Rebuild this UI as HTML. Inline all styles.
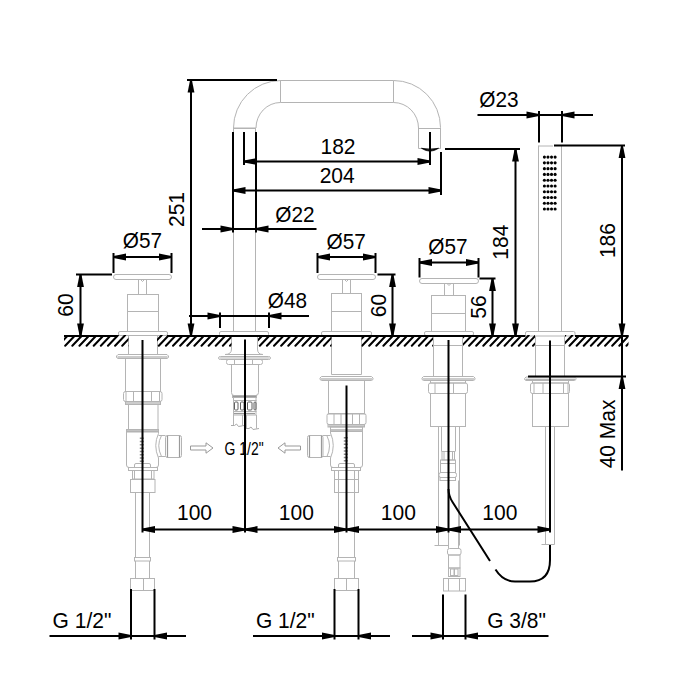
<!DOCTYPE html><html><head><meta charset="utf-8"><style>html,body{margin:0;padding:0;background:#fff;width:700px;height:700px;overflow:hidden}svg{display:block}text{font-family:"Liberation Sans",sans-serif;fill:#000}</style></head><body>
<svg width="700" height="700" viewBox="0 0 700 700">
<rect width="700" height="700" fill="#fff"/>
<g fill="none" stroke="#b4b4b4" stroke-width="1">
<path d="M233.5,128 A47.5,47.5 0 0 1 281,80.5 L393.5,80.5 A47,47 0 0 1 440.5,127.5 L440.5,148.5 L418.5,148.5 L418.5,128 A25,25.5 0 0 0 393.5,102.5 L280.5,102.5 A24.5,25.5 0 0 0 256,128 Z" fill="none" stroke="#b4b4b4" stroke-width="1"/>
<line x1="280.5" y1="80.5" x2="280.5" y2="102.5" stroke="#b4b4b4" stroke-width="1"/>
<line x1="393.5" y1="80.5" x2="393.5" y2="102.5" stroke="#b4b4b4" stroke-width="1"/>
<line x1="233.5" y1="128.5" x2="255.5" y2="128.5" stroke="#b4b4b4" stroke-width="1"/>
<line x1="418.5" y1="128.5" x2="440.5" y2="128.5" stroke="#b4b4b4" stroke-width="1"/>
<line x1="233.5" y1="128" x2="233.5" y2="331" stroke="#b4b4b4" stroke-width="1"/>
<line x1="255.5" y1="128" x2="255.5" y2="331" stroke="#b4b4b4" stroke-width="1"/>
<rect x="219.5" y="331.5" width="49" height="4.5" rx="1.5" fill="none" stroke="#b4b4b4" stroke-width="1"/>
<rect x="113.5" y="274.5" width="58.0" height="5" rx="2.5" fill="none" stroke="#b4b4b4" stroke-width="1"/>
<line x1="138.5" y1="279.5" x2="138.5" y2="294.5" stroke="#b4b4b4" stroke-width="1"/>
<line x1="146.5" y1="279.5" x2="146.5" y2="294.5" stroke="#b4b4b4" stroke-width="1"/>
<path d="M140.5,279.5 L142.5,281.5 L144.5,279.5" fill="none" stroke="#b4b4b4" stroke-width="1"/>
<rect x="127.5" y="294.5" width="31.0" height="37.0" rx="0" fill="none" stroke="#b4b4b4" stroke-width="1"/>
<line x1="127.5" y1="311.5" x2="158.5" y2="311.5" stroke="#b4b4b4" stroke-width="1"/>
<rect x="118.5" y="331.5" width="49.0" height="4" rx="1.5" fill="none" stroke="#b4b4b4" stroke-width="1"/>
<rect x="317.5" y="274.5" width="58.0" height="5" rx="2.5" fill="none" stroke="#b4b4b4" stroke-width="1"/>
<line x1="342.5" y1="279.5" x2="342.5" y2="293.5" stroke="#b4b4b4" stroke-width="1"/>
<line x1="350.5" y1="279.5" x2="350.5" y2="293.5" stroke="#b4b4b4" stroke-width="1"/>
<path d="M344.5,279.5 L346.5,281.5 L348.5,279.5" fill="none" stroke="#b4b4b4" stroke-width="1"/>
<rect x="331.5" y="293.5" width="30.0" height="38.0" rx="0" fill="none" stroke="#b4b4b4" stroke-width="1"/>
<line x1="331.5" y1="311.5" x2="361.5" y2="311.5" stroke="#b4b4b4" stroke-width="1"/>
<rect x="321.5" y="331.5" width="50.0" height="4" rx="1.5" fill="none" stroke="#b4b4b4" stroke-width="1"/>
<rect x="419.5" y="278.5" width="59.0" height="5" rx="2.5" fill="none" stroke="#b4b4b4" stroke-width="1"/>
<line x1="444.5" y1="283.5" x2="444.5" y2="295.5" stroke="#b4b4b4" stroke-width="1"/>
<line x1="453.5" y1="283.5" x2="453.5" y2="295.5" stroke="#b4b4b4" stroke-width="1"/>
<path d="M447.0,283.5 L449.0,285.5 L451.0,283.5" fill="none" stroke="#b4b4b4" stroke-width="1"/>
<rect x="431.5" y="295.5" width="34.0" height="36.0" rx="0" fill="none" stroke="#b4b4b4" stroke-width="1"/>
<line x1="431.5" y1="313.5" x2="465.5" y2="313.5" stroke="#b4b4b4" stroke-width="1"/>
<rect x="424.5" y="331.5" width="49.0" height="4" rx="1.5" fill="none" stroke="#b4b4b4" stroke-width="1"/>
<line x1="538.5" y1="145.5" x2="538.5" y2="331" stroke="#b4b4b4" stroke-width="1"/>
<line x1="561.5" y1="145.5" x2="561.5" y2="331" stroke="#b4b4b4" stroke-width="1"/>
<line x1="538.5" y1="146" x2="553" y2="146" stroke="#b4b4b4" stroke-width="1"/>
<rect x="525.5" y="331.5" width="49.5" height="4.5" rx="1.5" fill="none" stroke="#b4b4b4" stroke-width="1"/>
</g>
<circle cx="544.40" cy="157.10" r="1.55" fill="#000"/>
<circle cx="547.97" cy="157.10" r="1.55" fill="#000"/>
<circle cx="551.54" cy="157.10" r="1.55" fill="#000"/>
<circle cx="555.11" cy="157.10" r="1.55" fill="#000"/>
<circle cx="544.40" cy="162.87" r="1.55" fill="#000"/>
<circle cx="547.97" cy="162.87" r="1.55" fill="#000"/>
<circle cx="551.54" cy="162.87" r="1.55" fill="#000"/>
<circle cx="555.11" cy="162.87" r="1.55" fill="#000"/>
<circle cx="544.40" cy="168.64" r="1.55" fill="#000"/>
<circle cx="547.97" cy="168.64" r="1.55" fill="#000"/>
<circle cx="551.54" cy="168.64" r="1.55" fill="#000"/>
<circle cx="555.11" cy="168.64" r="1.55" fill="#000"/>
<circle cx="544.40" cy="174.41" r="1.55" fill="#000"/>
<circle cx="547.97" cy="174.41" r="1.55" fill="#000"/>
<circle cx="551.54" cy="174.41" r="1.55" fill="#000"/>
<circle cx="555.11" cy="174.41" r="1.55" fill="#000"/>
<circle cx="544.40" cy="180.18" r="1.55" fill="#000"/>
<circle cx="547.97" cy="180.18" r="1.55" fill="#000"/>
<circle cx="551.54" cy="180.18" r="1.55" fill="#000"/>
<circle cx="555.11" cy="180.18" r="1.55" fill="#000"/>
<circle cx="544.40" cy="185.95" r="1.55" fill="#000"/>
<circle cx="547.97" cy="185.95" r="1.55" fill="#000"/>
<circle cx="551.54" cy="185.95" r="1.55" fill="#000"/>
<circle cx="555.11" cy="185.95" r="1.55" fill="#000"/>
<circle cx="544.40" cy="191.72" r="1.55" fill="#000"/>
<circle cx="547.97" cy="191.72" r="1.55" fill="#000"/>
<circle cx="551.54" cy="191.72" r="1.55" fill="#000"/>
<circle cx="555.11" cy="191.72" r="1.55" fill="#000"/>
<circle cx="544.40" cy="197.49" r="1.55" fill="#000"/>
<circle cx="547.97" cy="197.49" r="1.55" fill="#000"/>
<circle cx="551.54" cy="197.49" r="1.55" fill="#000"/>
<circle cx="555.11" cy="197.49" r="1.55" fill="#000"/>
<circle cx="544.40" cy="203.26" r="1.55" fill="#000"/>
<circle cx="547.97" cy="203.26" r="1.55" fill="#000"/>
<circle cx="551.54" cy="203.26" r="1.55" fill="#000"/>
<circle cx="555.11" cy="203.26" r="1.55" fill="#000"/>
<circle cx="544.40" cy="209.03" r="1.55" fill="#000"/>
<circle cx="547.97" cy="209.03" r="1.55" fill="#000"/>
<circle cx="551.54" cy="209.03" r="1.55" fill="#000"/>
<circle cx="555.11" cy="209.03" r="1.55" fill="#000"/>
<g fill="none" stroke="#b4b4b4" stroke-width="1">
<line x1="128.5" y1="336" x2="128.5" y2="354.5" stroke="#b4b4b4" stroke-width="1"/>
<line x1="157.5" y1="336" x2="157.5" y2="354.5" stroke="#b4b4b4" stroke-width="1"/>
<path d="M118.0,354.5 L167.0,354.5 L168.5,356.0 L168.5,357.5 L167.0,358.5 L118.0,358.5 L116.5,357.5 L116.5,356.0 Z" fill="none" stroke="#b4b4b4" stroke-width="1"/>
<line x1="117.5" y1="357.0" x2="167.5" y2="357.0" stroke="#9a9a9a" stroke-width="1.2"/>
<rect x="125.5" y="358.5" width="35" height="33" rx="0" fill="none" stroke="#b4b4b4" stroke-width="1"/>
<rect x="123.5" y="391.5" width="38.5" height="10.0" rx="2" fill="none" stroke="#b4b4b4" stroke-width="1"/>
<line x1="126" y1="391.5" x2="126" y2="401.5" stroke="#b4b4b4" stroke-width="1"/>
<line x1="133.5" y1="391.5" x2="133.5" y2="401.5" stroke="#b4b4b4" stroke-width="1"/>
<line x1="151.5" y1="391.5" x2="151.5" y2="401.5" stroke="#b4b4b4" stroke-width="1"/>
<line x1="159.5" y1="391.5" x2="159.5" y2="401.5" stroke="#b4b4b4" stroke-width="1"/>
<rect x="125.5" y="401.5" width="35" height="3" rx="0" fill="none" stroke="#b4b4b4" stroke-width="1"/>
<line x1="126" y1="403" x2="160" y2="403" stroke="#9a9a9a" stroke-width="1.2"/>
<rect x="128.5" y="404.5" width="29.5" height="25" rx="0" fill="none" stroke="#b4b4b4" stroke-width="1"/>
<rect x="126.5" y="429.5" width="32" height="2.5" rx="0" fill="none" stroke="#b4b4b4" stroke-width="1"/>
<line x1="127" y1="431" x2="158" y2="431" stroke="#9a9a9a" stroke-width="1.2"/>
<path d="M126.5,432 L126.5,465 Q126.5,467.5 129,467.5 L156,467.5 Q158.5,467.5 158.5,465 L158.5,458 M158.5,432 L158.5,433.5" fill="none" stroke="#b4b4b4" stroke-width="1"/>
<path d="M158.5,433.5 Q153,445.5 158.5,458 M161.5,435.5 Q156,445.5 161.5,456.5" fill="none" stroke="#b4b4b4" stroke-width="1"/>
<line x1="158.5" y1="435.5" x2="165.5" y2="435.5" stroke="#b4b4b4" stroke-width="1"/>
<line x1="158.5" y1="456.5" x2="165.5" y2="456.5" stroke="#b4b4b4" stroke-width="1"/>
<rect x="165.5" y="435.5" width="16" height="22" rx="2" fill="none" stroke="#b4b4b4" stroke-width="1"/>
<line x1="167.5" y1="435.5" x2="167.5" y2="457.5" stroke="#9a9a9a" stroke-width="1.2"/>
<line x1="179.5" y1="435.5" x2="179.5" y2="457.5" stroke="#9a9a9a" stroke-width="1.2"/>
<line x1="141.8" y1="437.5" x2="141.8" y2="462.5" stroke="#8a8a8a" stroke-width="4" stroke-dasharray="1.5,1.8"/>
<path d="M134.5,467.5 L134.5,465 Q134.5,463.5 136,463.5 L149,463.5 Q150.5,463.5 150.5,465 L150.5,467.5" fill="none" stroke="#b4b4b4" stroke-width="1"/>
<rect x="128.5" y="467.5" width="29" height="3" rx="0" fill="none" stroke="#b4b4b4" stroke-width="1"/>
<rect x="132.5" y="470.5" width="21.5" height="8.5" rx="0" fill="none" stroke="#b4b4b4" stroke-width="1"/>
<line x1="134.5" y1="470.5" x2="134.5" y2="479" stroke="#b4b4b4" stroke-width="1"/>
<line x1="151.5" y1="470.5" x2="151.5" y2="479" stroke="#b4b4b4" stroke-width="1"/>
<rect x="130.5" y="479.5" width="24.5" height="13" rx="0" fill="none" stroke="#b4b4b4" stroke-width="1"/>
<line x1="135.5" y1="492.5" x2="135.5" y2="557.5" stroke="#b4b4b4" stroke-width="1"/>
<line x1="149.5" y1="492.5" x2="149.5" y2="557.5" stroke="#b4b4b4" stroke-width="1"/>
<rect x="134.5" y="557.5" width="16" height="3.5" rx="0" fill="none" stroke="#b4b4b4" stroke-width="1"/>
<line x1="135.5" y1="561" x2="135.5" y2="578" stroke="#b4b4b4" stroke-width="1"/>
<line x1="149.5" y1="561" x2="149.5" y2="578" stroke="#b4b4b4" stroke-width="1"/>
<rect x="130.5" y="578.5" width="24" height="12" rx="0" fill="none" stroke="#b4b4b4" stroke-width="1"/>
<line x1="143.5" y1="578.5" x2="143.5" y2="590.5" stroke="#b4b4b4" stroke-width="1"/>
<path d="M231.5,336 L231.5,349 Q231.5,354.5 225,354.5 L263,354.5 Q257.5,354.5 257.5,349 L257.5,336" fill="none" stroke="#b4b4b4" stroke-width="1"/>
<path d="M220.5,356.5 L268.5,356.5 Q270.5,356.5 270.5,358 Q270.5,359.5 268.5,359.5 L220.5,359.5 Q218.5,359.5 218.5,358 Q218.5,356.5 220.5,356.5 Z" fill="none" stroke="#b4b4b4" stroke-width="1"/>
<line x1="220" y1="358" x2="269" y2="358" stroke="#b4b4b4" stroke-width="1"/>
<rect x="226.5" y="359.5" width="36.0" height="5.0" rx="2" fill="none" stroke="#b4b4b4" stroke-width="1"/>
<line x1="234.5" y1="359.5" x2="234.5" y2="364.5" stroke="#b4b4b4" stroke-width="1"/>
<line x1="252.5" y1="359.5" x2="252.5" y2="364.5" stroke="#b4b4b4" stroke-width="1"/>
<path d="M231.5,364.5 L231.5,392.5 Q231.5,395.5 234,395.5 L255.5,395.5 Q258.5,395.5 258.5,392.5 L258.5,364.5" fill="none" stroke="#b4b4b4" stroke-width="1"/>
<rect x="232.5" y="395.5" width="24" height="2" rx="0" fill="none" stroke="#b4b4b4" stroke-width="1"/>
<line x1="233" y1="396.5" x2="256" y2="396.5" stroke="#9a9a9a" stroke-width="1"/>
<rect x="233.5" y="397.5" width="22.5" height="3" rx="0" fill="none" stroke="#b4b4b4" stroke-width="1"/>
<rect x="233.5" y="400.5" width="22.5" height="11" rx="0" fill="none" stroke="#b4b4b4" stroke-width="1"/>
<rect x="234.5" y="402" width="3.5" height="8" rx="1" fill="none" stroke="#606060" stroke-width="1"/>
<rect x="240.5" y="402" width="3.5" height="8" rx="1" fill="none" stroke="#606060" stroke-width="1"/>
<rect x="247.5" y="402" width="4.5" height="8" rx="1" fill="none" stroke="#606060" stroke-width="1"/>
<rect x="254" y="402" width="2" height="8" rx="1" fill="none" stroke="#606060" stroke-width="1"/>
<rect x="233.5" y="411.5" width="22.5" height="3.5" rx="0" fill="none" stroke="#b4b4b4" stroke-width="1"/>
<line x1="234" y1="413.5" x2="255" y2="413.5" stroke="#9a9a9a" stroke-width="1.2"/>
<line x1="233.5" y1="415" x2="233.5" y2="425.5" stroke="#b4b4b4" stroke-width="1"/>
<line x1="242.5" y1="415" x2="242.5" y2="425.5" stroke="#b4b4b4" stroke-width="1"/>
<line x1="246.5" y1="415" x2="246.5" y2="428.5" stroke="#b4b4b4" stroke-width="1"/>
<line x1="256.5" y1="415" x2="256.5" y2="428.5" stroke="#b4b4b4" stroke-width="1"/>
<path d="M231,425.5 L234.5,425.5 L236.5,424 L238.5,426.5 L244,425.5" fill="none" stroke="#aaa" stroke-width="1"/>
<path d="M245,428.5 L249,428.5 L251,427 L253,429.5 L259,428.5" fill="none" stroke="#aaa" stroke-width="1"/>
<line x1="331.5" y1="336" x2="331.5" y2="374.5" stroke="#b4b4b4" stroke-width="1"/>
<line x1="361.5" y1="336" x2="361.5" y2="374.5" stroke="#b4b4b4" stroke-width="1"/>
<line x1="331.5" y1="374.5" x2="361.5" y2="374.5" stroke="#b4b4b4" stroke-width="1"/>
<path d="M321.5,376.5 L371.5,376.5 L373,378.0 L373,379.5 L371.5,380.5 L321.5,380.5 L320,379.5 L320,378.0 Z" fill="none" stroke="#b4b4b4" stroke-width="1"/>
<line x1="321" y1="379.0" x2="372" y2="379.0" stroke="#9a9a9a" stroke-width="1.2"/>
<rect x="328.5" y="380.5" width="36" height="33.5" rx="0" fill="none" stroke="#b4b4b4" stroke-width="1"/>
<rect x="327" y="413.5" width="39" height="11.0" rx="2" fill="none" stroke="#b4b4b4" stroke-width="1"/>
<line x1="334" y1="413.5" x2="334" y2="424.5" stroke="#b4b4b4" stroke-width="1"/>
<line x1="341" y1="413.5" x2="341" y2="424.5" stroke="#b4b4b4" stroke-width="1"/>
<line x1="352.5" y1="413.5" x2="352.5" y2="424.5" stroke="#b4b4b4" stroke-width="1"/>
<line x1="359.5" y1="413.5" x2="359.5" y2="424.5" stroke="#b4b4b4" stroke-width="1"/>
<rect x="328" y="424.5" width="36.5" height="2.5" rx="0" fill="none" stroke="#b4b4b4" stroke-width="1"/>
<line x1="328.5" y1="426" x2="364" y2="426" stroke="#9a9a9a" stroke-width="1.2"/>
<rect x="330.5" y="427" width="32" height="4.5" rx="0" fill="none" stroke="#b4b4b4" stroke-width="1"/>
<line x1="331" y1="430" x2="362" y2="430" stroke="#9a9a9a" stroke-width="1.2"/>
<path d="M330.5,431.5 L330.5,433 M330.5,458 L330.5,465 Q330.5,467.5 333,467.5 L360,467.5 Q362.5,467.5 362.5,465 L362.5,431.5" fill="none" stroke="#b4b4b4" stroke-width="1"/>
<path d="M330.5,433 Q336,445.5 330.5,458 M327,436 Q332,445.5 327,456.5" fill="none" stroke="#b4b4b4" stroke-width="1"/>
<line x1="322.5" y1="435.5" x2="330.5" y2="435.5" stroke="#b4b4b4" stroke-width="1"/>
<line x1="322.5" y1="456.5" x2="330.5" y2="456.5" stroke="#b4b4b4" stroke-width="1"/>
<rect x="307.5" y="435.5" width="15.5" height="22" rx="2" fill="none" stroke="#b4b4b4" stroke-width="1"/>
<line x1="309.5" y1="435.5" x2="309.5" y2="457.5" stroke="#9a9a9a" stroke-width="1.2"/>
<line x1="321.5" y1="435.5" x2="321.5" y2="457.5" stroke="#9a9a9a" stroke-width="1.2"/>
<line x1="345.8" y1="437" x2="345.8" y2="463" stroke="#8a8a8a" stroke-width="4" stroke-dasharray="1.5,1.8"/>
<path d="M338.5,467.5 L338.5,465 Q338.5,463.5 340,463.5 L353,463.5 Q354.5,463.5 354.5,465 L354.5,467.5" fill="none" stroke="#b4b4b4" stroke-width="1"/>
<rect x="331.5" y="467.5" width="29" height="3" rx="0" fill="none" stroke="#b4b4b4" stroke-width="1"/>
<rect x="334.5" y="470.5" width="24" height="22" rx="0" fill="none" stroke="#b4b4b4" stroke-width="1"/>
<line x1="334.5" y1="479.5" x2="358.5" y2="479.5" stroke="#b4b4b4" stroke-width="1"/>
<line x1="338.5" y1="470.5" x2="338.5" y2="492.5" stroke="#b4b4b4" stroke-width="1"/>
<line x1="354.5" y1="470.5" x2="354.5" y2="492.5" stroke="#b4b4b4" stroke-width="1"/>
<line x1="338.5" y1="492.5" x2="338.5" y2="557.5" stroke="#b4b4b4" stroke-width="1"/>
<line x1="354.5" y1="492.5" x2="354.5" y2="557.5" stroke="#b4b4b4" stroke-width="1"/>
<rect x="337.5" y="557.5" width="18" height="3.5" rx="0" fill="none" stroke="#b4b4b4" stroke-width="1"/>
<line x1="338.5" y1="561" x2="338.5" y2="578" stroke="#b4b4b4" stroke-width="1"/>
<line x1="354.5" y1="561" x2="354.5" y2="578" stroke="#b4b4b4" stroke-width="1"/>
<rect x="334.5" y="578.5" width="24" height="12" rx="0" fill="none" stroke="#b4b4b4" stroke-width="1"/>
<line x1="346.5" y1="578.5" x2="346.5" y2="590.5" stroke="#b4b4b4" stroke-width="1"/>
<line x1="433.5" y1="336" x2="433.5" y2="376.5" stroke="#b4b4b4" stroke-width="1"/>
<line x1="462.5" y1="336" x2="462.5" y2="376.5" stroke="#b4b4b4" stroke-width="1"/>
<line x1="433.5" y1="345.5" x2="462.5" y2="345.5" stroke="#b4b4b4" stroke-width="1"/>
<path d="M423.5,376.5 L473.5,376.5 L475,378.0 L475,379.5 L473.5,380.5 L423.5,380.5 L422,379.5 L422,378.0 Z" fill="none" stroke="#b4b4b4" stroke-width="1"/>
<line x1="423" y1="379.0" x2="474" y2="379.0" stroke="#9a9a9a" stroke-width="1.2"/>
<rect x="430.5" y="380.5" width="35" height="2.5" rx="0" fill="none" stroke="#b4b4b4" stroke-width="1"/>
<rect x="428.5" y="383" width="39.0" height="10.5" rx="2" fill="none" stroke="#b4b4b4" stroke-width="1"/>
<line x1="435" y1="383" x2="435" y2="393.5" stroke="#b4b4b4" stroke-width="1"/>
<line x1="453.5" y1="383" x2="453.5" y2="393.5" stroke="#b4b4b4" stroke-width="1"/>
<rect x="430.5" y="393.5" width="35" height="33" rx="0" fill="none" stroke="#b4b4b4" stroke-width="1"/>
<line x1="438.5" y1="427" x2="438.5" y2="545.5" stroke="#b4b4b4" stroke-width="1"/>
<line x1="459.5" y1="427" x2="459.5" y2="545.5" stroke="#b4b4b4" stroke-width="1"/>
<line x1="441.5" y1="427" x2="441.5" y2="451.5" stroke="#b4b4b4" stroke-width="1"/>
<line x1="455.5" y1="427" x2="455.5" y2="451.5" stroke="#b4b4b4" stroke-width="1"/>
<rect x="442" y="451.5" width="12.5" height="8.5" rx="0" fill="none" stroke="#b4b4b4" stroke-width="1"/>
<line x1="444" y1="451.5" x2="444" y2="460" stroke="#b4b4b4" stroke-width="1"/>
<line x1="452.5" y1="451.5" x2="452.5" y2="460" stroke="#b4b4b4" stroke-width="1"/>
<rect x="440.5" y="460" width="15" height="3.5" rx="0" fill="none" stroke="#b4b4b4" stroke-width="1"/>
<rect x="440.5" y="463.5" width="15" height="9" rx="0" fill="none" stroke="#b4b4b4" stroke-width="1"/>
<rect x="439" y="472.5" width="17.5" height="5" rx="2" fill="none" stroke="#b4b4b4" stroke-width="1"/>
<rect x="440" y="477.5" width="15.5" height="3" rx="0" fill="none" stroke="#b4b4b4" stroke-width="1"/>
<line x1="434.5" y1="545.5" x2="448" y2="545.5" stroke="#b4b4b4" stroke-width="1"/>
<line x1="448.5" y1="480.5" x2="448.5" y2="548.5" stroke="#b4b4b4" stroke-width="1"/>
<line x1="458.5" y1="480.5" x2="458.5" y2="548.5" stroke="#b4b4b4" stroke-width="1"/>
<rect x="447.5" y="548.5" width="13.5" height="6.5" rx="2" fill="none" stroke="#b4b4b4" stroke-width="1"/>
<rect x="448.5" y="555" width="11.5" height="13" rx="0" fill="none" stroke="#b4b4b4" stroke-width="1"/>
<rect x="448.5" y="568" width="11.5" height="8.5" rx="0" fill="none" stroke="#b4b4b4" stroke-width="1"/>
<rect x="450.5" y="569" width="3.5" height="6.5" rx="0" fill="none" stroke="#b4b4b4" stroke-width="1"/>
<rect x="454.5" y="569" width="3.5" height="6.5" rx="0" fill="none" stroke="#b4b4b4" stroke-width="1"/>
<rect x="443.5" y="578.5" width="22" height="12.5" rx="0" fill="none" stroke="#b4b4b4" stroke-width="1"/>
<line x1="448.5" y1="578.5" x2="448.5" y2="591" stroke="#b4b4b4" stroke-width="1"/>
<line x1="459.5" y1="578.5" x2="459.5" y2="591" stroke="#b4b4b4" stroke-width="1"/>
<line x1="535.5" y1="336" x2="535.5" y2="376.5" stroke="#b4b4b4" stroke-width="1"/>
<line x1="564.5" y1="336" x2="564.5" y2="376.5" stroke="#b4b4b4" stroke-width="1"/>
<line x1="535.5" y1="345.5" x2="564.5" y2="345.5" stroke="#b4b4b4" stroke-width="1"/>
<path d="M526.0,377 L574.5,377 L576,378.5 L576,379.5 L574.5,380.5 L526.0,380.5 L524.5,379.5 L524.5,378.5 Z" fill="none" stroke="#b4b4b4" stroke-width="1"/>
<line x1="525.5" y1="379.25" x2="575" y2="379.25" stroke="#9a9a9a" stroke-width="1.2"/>
<rect x="532.5" y="380.5" width="36" height="2.5" rx="0" fill="none" stroke="#b4b4b4" stroke-width="1"/>
<rect x="530.5" y="383" width="39.0" height="10.5" rx="2" fill="none" stroke="#b4b4b4" stroke-width="1"/>
<line x1="534" y1="383" x2="534" y2="393.5" stroke="#b4b4b4" stroke-width="1"/>
<line x1="543" y1="383" x2="543" y2="393.5" stroke="#b4b4b4" stroke-width="1"/>
<line x1="563.5" y1="383" x2="563.5" y2="393.5" stroke="#b4b4b4" stroke-width="1"/>
<line x1="568" y1="383" x2="568" y2="393.5" stroke="#b4b4b4" stroke-width="1"/>
<rect x="532.5" y="393.5" width="36" height="33" rx="0" fill="none" stroke="#b4b4b4" stroke-width="1"/>
<line x1="545.5" y1="426.5" x2="545.5" y2="544.5" stroke="#b4b4b4" stroke-width="1"/>
<line x1="554.5" y1="426.5" x2="554.5" y2="544.5" stroke="#b4b4b4" stroke-width="1"/>
<line x1="541.5" y1="544.5" x2="554.5" y2="544.5" stroke="#b4b4b4" stroke-width="1"/>
</g>
<g>
<line x1="187" y1="80" x2="277" y2="80" stroke="#000" stroke-width="2"/>
<line x1="191" y1="80" x2="191" y2="336" stroke="#000" stroke-width="2"/>
<polygon points="190.10,80.00 191.90,80.00 194.40,92.50 187.60,92.50" fill="#000"/>
<polygon points="190.10,336.00 191.90,336.00 194.40,323.50 187.60,323.50" fill="#000"/>
<line x1="233" y1="132" x2="233" y2="232.5" stroke="#000" stroke-width="2"/>
<line x1="244" y1="132" x2="244" y2="165" stroke="#000" stroke-width="2"/>
<line x1="256" y1="132" x2="256" y2="232.5" stroke="#000" stroke-width="2"/>
<line x1="430" y1="132" x2="430" y2="165" stroke="#000" stroke-width="2"/>
<line x1="441" y1="152" x2="441" y2="195" stroke="#000" stroke-width="2"/>
<line x1="244" y1="161.5" x2="430" y2="161.5" stroke="#000" stroke-width="2"/>
<polygon points="244.00,160.60 244.00,162.40 256.50,164.90 256.50,158.10" fill="#000"/>
<polygon points="430.00,160.60 430.00,162.40 417.50,164.90 417.50,158.10" fill="#000"/>
<line x1="233" y1="190.5" x2="441" y2="190.5" stroke="#000" stroke-width="2"/>
<polygon points="233.00,189.60 233.00,191.40 245.50,193.90 245.50,187.10" fill="#000"/>
<polygon points="441.00,189.60 441.00,191.40 428.50,193.90 428.50,187.10" fill="#000"/>
<path d="M421.5,148.3 Q430,154 438.5,148.3 Q430,150.5 421.5,148.3 Z" fill="#000" stroke="#000" stroke-width="0.8"/>
<line x1="202" y1="229" x2="316.5" y2="229" stroke="#000" stroke-width="2"/>
<polygon points="233.00,228.10 233.00,229.90 220.50,232.40 220.50,225.60" fill="#000"/>
<polygon points="256.00,228.10 256.00,229.90 268.50,232.40 268.50,225.60" fill="#000"/>
<line x1="189" y1="316" x2="309" y2="316" stroke="#000" stroke-width="2"/>
<polygon points="220.00,315.10 220.00,316.90 207.50,319.40 207.50,312.60" fill="#000"/>
<polygon points="269.00,315.10 269.00,316.90 281.50,319.40 281.50,312.60" fill="#000"/>
<line x1="220" y1="312.5" x2="220" y2="328" stroke="#000" stroke-width="2"/>
<line x1="269" y1="312.5" x2="269" y2="328" stroke="#000" stroke-width="2"/>
<line x1="113.5" y1="253" x2="113.5" y2="273" stroke="#000" stroke-width="2"/>
<line x1="171.5" y1="253" x2="171.5" y2="273" stroke="#000" stroke-width="2"/>
<line x1="113.5" y1="257" x2="171.5" y2="257" stroke="#000" stroke-width="2"/>
<polygon points="113.50,256.10 113.50,257.90 126.00,260.40 126.00,253.60" fill="#000"/>
<polygon points="171.50,256.10 171.50,257.90 159.00,260.40 159.00,253.60" fill="#000"/>
<line x1="76" y1="274.5" x2="112" y2="274.5" stroke="#000" stroke-width="2"/>
<line x1="80.5" y1="274.5" x2="80.5" y2="336" stroke="#000" stroke-width="2"/>
<polygon points="79.60,274.50 81.40,274.50 83.90,287.00 77.10,287.00" fill="#000"/>
<polygon points="79.60,336.00 81.40,336.00 83.90,323.50 77.10,323.50" fill="#000"/>
<line x1="317.5" y1="253" x2="317.5" y2="273" stroke="#000" stroke-width="2"/>
<line x1="375.5" y1="253" x2="375.5" y2="273" stroke="#000" stroke-width="2"/>
<line x1="317.5" y1="257" x2="375.5" y2="257" stroke="#000" stroke-width="2"/>
<polygon points="317.50,256.10 317.50,257.90 330.00,260.40 330.00,253.60" fill="#000"/>
<polygon points="375.50,256.10 375.50,257.90 363.00,260.40 363.00,253.60" fill="#000"/>
<line x1="377.5" y1="274.5" x2="395.5" y2="274.5" stroke="#000" stroke-width="2"/>
<line x1="392.5" y1="274.5" x2="392.5" y2="336" stroke="#000" stroke-width="2"/>
<polygon points="391.60,274.50 393.40,274.50 395.90,287.00 389.10,287.00" fill="#000"/>
<polygon points="391.60,336.00 393.40,336.00 395.90,323.50 389.10,323.50" fill="#000"/>
<line x1="419.5" y1="258" x2="419.5" y2="277.5" stroke="#000" stroke-width="2"/>
<line x1="478.5" y1="258" x2="478.5" y2="277.5" stroke="#000" stroke-width="2"/>
<line x1="419.5" y1="262.5" x2="478.5" y2="262.5" stroke="#000" stroke-width="2"/>
<polygon points="419.50,261.60 419.50,263.40 432.00,265.90 432.00,259.10" fill="#000"/>
<polygon points="478.50,261.60 478.50,263.40 466.00,265.90 466.00,259.10" fill="#000"/>
<line x1="479.5" y1="278.5" x2="495.5" y2="278.5" stroke="#000" stroke-width="2"/>
<line x1="492.5" y1="278.5" x2="492.5" y2="336" stroke="#000" stroke-width="2"/>
<polygon points="491.60,278.50 493.40,278.50 495.90,291.00 489.10,291.00" fill="#000"/>
<polygon points="491.60,336.00 493.40,336.00 495.90,323.50 489.10,323.50" fill="#000"/>
<line x1="445" y1="149" x2="520" y2="149" stroke="#000" stroke-width="2"/>
<line x1="515.5" y1="149" x2="515.5" y2="336" stroke="#000" stroke-width="2"/>
<polygon points="514.60,149.00 516.40,149.00 518.90,161.50 512.10,161.50" fill="#000"/>
<polygon points="514.60,336.00 516.40,336.00 518.90,323.50 512.10,323.50" fill="#000"/>
<line x1="554" y1="145.5" x2="625" y2="145.5" stroke="#000" stroke-width="2"/>
<line x1="622" y1="145.5" x2="622" y2="336" stroke="#000" stroke-width="2"/>
<polygon points="621.10,145.50 622.90,145.50 625.40,158.00 618.60,158.00" fill="#000"/>
<polygon points="621.10,336.00 622.90,336.00 625.40,323.50 618.60,323.50" fill="#000"/>
<line x1="528" y1="376.5" x2="626" y2="376.5" stroke="#000" stroke-width="2"/>
<line x1="622" y1="336" x2="622" y2="470.5" stroke="#000" stroke-width="2"/>
<polygon points="621.10,376.50 622.90,376.50 625.40,389.00 618.60,389.00" fill="#000"/>
<line x1="477.5" y1="115" x2="593" y2="115" stroke="#000" stroke-width="2"/>
<polygon points="539.00,114.10 539.00,115.90 526.50,118.40 526.50,111.60" fill="#000"/>
<polygon points="562.00,114.10 562.00,115.90 574.50,118.40 574.50,111.60" fill="#000"/>
<line x1="539" y1="111" x2="539" y2="142.5" stroke="#000" stroke-width="2"/>
<line x1="562" y1="111" x2="562" y2="142.5" stroke="#000" stroke-width="2"/>
<line x1="64" y1="336" x2="118" y2="336" stroke="#000" stroke-width="2"/>
<line x1="167" y1="336" x2="525.5" y2="336" stroke="#000" stroke-width="2"/>
<line x1="575" y1="336" x2="628.5" y2="336" stroke="#000" stroke-width="2"/>
<clipPath id="hc0"><rect x="64" y="335" width="64.5" height="13"/></clipPath>
<g clip-path="url(#hc0)">
<line x1="50.94" y1="345.7" x2="60.94" y2="335.2" stroke="#000" stroke-width="2" stroke-linecap="round"/>
<line x1="58.07" y1="345.7" x2="68.07" y2="335.2" stroke="#000" stroke-width="2" stroke-linecap="round"/>
<line x1="65.20" y1="345.7" x2="75.20" y2="335.2" stroke="#000" stroke-width="2" stroke-linecap="round"/>
<line x1="72.33" y1="345.7" x2="82.33" y2="335.2" stroke="#000" stroke-width="2" stroke-linecap="round"/>
<line x1="79.46" y1="345.7" x2="89.46" y2="335.2" stroke="#000" stroke-width="2" stroke-linecap="round"/>
<line x1="86.59" y1="345.7" x2="96.59" y2="335.2" stroke="#000" stroke-width="2" stroke-linecap="round"/>
<line x1="93.72" y1="345.7" x2="103.72" y2="335.2" stroke="#000" stroke-width="2" stroke-linecap="round"/>
<line x1="100.85" y1="345.7" x2="110.85" y2="335.2" stroke="#000" stroke-width="2" stroke-linecap="round"/>
<line x1="107.98" y1="345.7" x2="117.98" y2="335.2" stroke="#000" stroke-width="2" stroke-linecap="round"/>
<line x1="115.11" y1="345.7" x2="125.11" y2="335.2" stroke="#000" stroke-width="2" stroke-linecap="round"/>
<line x1="122.24" y1="345.7" x2="132.24" y2="335.2" stroke="#000" stroke-width="2" stroke-linecap="round"/>
<line x1="129.37" y1="345.7" x2="139.37" y2="335.2" stroke="#000" stroke-width="2" stroke-linecap="round"/>
</g>
<clipPath id="hc1"><rect x="157" y="335" width="74.5" height="13"/></clipPath>
<g clip-path="url(#hc1)">
<line x1="144.56" y1="345.7" x2="154.56" y2="335.2" stroke="#000" stroke-width="2" stroke-linecap="round"/>
<line x1="151.68" y1="345.7" x2="161.68" y2="335.2" stroke="#000" stroke-width="2" stroke-linecap="round"/>
<line x1="158.80" y1="345.7" x2="168.80" y2="335.2" stroke="#000" stroke-width="2" stroke-linecap="round"/>
<line x1="165.92" y1="345.7" x2="175.92" y2="335.2" stroke="#000" stroke-width="2" stroke-linecap="round"/>
<line x1="173.04" y1="345.7" x2="183.04" y2="335.2" stroke="#000" stroke-width="2" stroke-linecap="round"/>
<line x1="180.16" y1="345.7" x2="190.16" y2="335.2" stroke="#000" stroke-width="2" stroke-linecap="round"/>
<line x1="187.28" y1="345.7" x2="197.28" y2="335.2" stroke="#000" stroke-width="2" stroke-linecap="round"/>
<line x1="194.40" y1="345.7" x2="204.40" y2="335.2" stroke="#000" stroke-width="2" stroke-linecap="round"/>
<line x1="201.52" y1="345.7" x2="211.52" y2="335.2" stroke="#000" stroke-width="2" stroke-linecap="round"/>
<line x1="208.64" y1="345.7" x2="218.64" y2="335.2" stroke="#000" stroke-width="2" stroke-linecap="round"/>
<line x1="215.76" y1="345.7" x2="225.76" y2="335.2" stroke="#000" stroke-width="2" stroke-linecap="round"/>
<line x1="222.88" y1="345.7" x2="232.88" y2="335.2" stroke="#000" stroke-width="2" stroke-linecap="round"/>
<line x1="230.00" y1="345.7" x2="240.00" y2="335.2" stroke="#000" stroke-width="2" stroke-linecap="round"/>
</g>
<clipPath id="hc2"><rect x="258" y="335" width="73.5" height="13"/></clipPath>
<g clip-path="url(#hc2)">
<line x1="245.56" y1="345.7" x2="255.56" y2="335.2" stroke="#000" stroke-width="2" stroke-linecap="round"/>
<line x1="252.68" y1="345.7" x2="262.68" y2="335.2" stroke="#000" stroke-width="2" stroke-linecap="round"/>
<line x1="259.80" y1="345.7" x2="269.80" y2="335.2" stroke="#000" stroke-width="2" stroke-linecap="round"/>
<line x1="266.92" y1="345.7" x2="276.92" y2="335.2" stroke="#000" stroke-width="2" stroke-linecap="round"/>
<line x1="274.04" y1="345.7" x2="284.04" y2="335.2" stroke="#000" stroke-width="2" stroke-linecap="round"/>
<line x1="281.16" y1="345.7" x2="291.16" y2="335.2" stroke="#000" stroke-width="2" stroke-linecap="round"/>
<line x1="288.28" y1="345.7" x2="298.28" y2="335.2" stroke="#000" stroke-width="2" stroke-linecap="round"/>
<line x1="295.40" y1="345.7" x2="305.40" y2="335.2" stroke="#000" stroke-width="2" stroke-linecap="round"/>
<line x1="302.52" y1="345.7" x2="312.52" y2="335.2" stroke="#000" stroke-width="2" stroke-linecap="round"/>
<line x1="309.64" y1="345.7" x2="319.64" y2="335.2" stroke="#000" stroke-width="2" stroke-linecap="round"/>
<line x1="316.76" y1="345.7" x2="326.76" y2="335.2" stroke="#000" stroke-width="2" stroke-linecap="round"/>
<line x1="323.88" y1="345.7" x2="333.88" y2="335.2" stroke="#000" stroke-width="2" stroke-linecap="round"/>
<line x1="331.00" y1="345.7" x2="341.00" y2="335.2" stroke="#000" stroke-width="2" stroke-linecap="round"/>
</g>
<clipPath id="hc3"><rect x="361.5" y="335" width="71.5" height="13"/></clipPath>
<g clip-path="url(#hc3)">
<line x1="347.90" y1="345.7" x2="357.90" y2="335.2" stroke="#000" stroke-width="2" stroke-linecap="round"/>
<line x1="355.00" y1="345.7" x2="365.00" y2="335.2" stroke="#000" stroke-width="2" stroke-linecap="round"/>
<line x1="362.10" y1="345.7" x2="372.10" y2="335.2" stroke="#000" stroke-width="2" stroke-linecap="round"/>
<line x1="369.20" y1="345.7" x2="379.20" y2="335.2" stroke="#000" stroke-width="2" stroke-linecap="round"/>
<line x1="376.30" y1="345.7" x2="386.30" y2="335.2" stroke="#000" stroke-width="2" stroke-linecap="round"/>
<line x1="383.40" y1="345.7" x2="393.40" y2="335.2" stroke="#000" stroke-width="2" stroke-linecap="round"/>
<line x1="390.50" y1="345.7" x2="400.50" y2="335.2" stroke="#000" stroke-width="2" stroke-linecap="round"/>
<line x1="397.60" y1="345.7" x2="407.60" y2="335.2" stroke="#000" stroke-width="2" stroke-linecap="round"/>
<line x1="404.70" y1="345.7" x2="414.70" y2="335.2" stroke="#000" stroke-width="2" stroke-linecap="round"/>
<line x1="411.80" y1="345.7" x2="421.80" y2="335.2" stroke="#000" stroke-width="2" stroke-linecap="round"/>
<line x1="418.90" y1="345.7" x2="428.90" y2="335.2" stroke="#000" stroke-width="2" stroke-linecap="round"/>
<line x1="426.00" y1="345.7" x2="436.00" y2="335.2" stroke="#000" stroke-width="2" stroke-linecap="round"/>
<line x1="433.10" y1="345.7" x2="443.10" y2="335.2" stroke="#000" stroke-width="2" stroke-linecap="round"/>
</g>
<clipPath id="hc4"><rect x="463" y="335" width="72" height="13"/></clipPath>
<g clip-path="url(#hc4)">
<line x1="447.80" y1="345.7" x2="457.80" y2="335.2" stroke="#000" stroke-width="2" stroke-linecap="round"/>
<line x1="454.90" y1="345.7" x2="464.90" y2="335.2" stroke="#000" stroke-width="2" stroke-linecap="round"/>
<line x1="462.00" y1="345.7" x2="472.00" y2="335.2" stroke="#000" stroke-width="2" stroke-linecap="round"/>
<line x1="469.10" y1="345.7" x2="479.10" y2="335.2" stroke="#000" stroke-width="2" stroke-linecap="round"/>
<line x1="476.20" y1="345.7" x2="486.20" y2="335.2" stroke="#000" stroke-width="2" stroke-linecap="round"/>
<line x1="483.30" y1="345.7" x2="493.30" y2="335.2" stroke="#000" stroke-width="2" stroke-linecap="round"/>
<line x1="490.40" y1="345.7" x2="500.40" y2="335.2" stroke="#000" stroke-width="2" stroke-linecap="round"/>
<line x1="497.50" y1="345.7" x2="507.50" y2="335.2" stroke="#000" stroke-width="2" stroke-linecap="round"/>
<line x1="504.60" y1="345.7" x2="514.60" y2="335.2" stroke="#000" stroke-width="2" stroke-linecap="round"/>
<line x1="511.70" y1="345.7" x2="521.70" y2="335.2" stroke="#000" stroke-width="2" stroke-linecap="round"/>
<line x1="518.80" y1="345.7" x2="528.80" y2="335.2" stroke="#000" stroke-width="2" stroke-linecap="round"/>
<line x1="525.90" y1="345.7" x2="535.90" y2="335.2" stroke="#000" stroke-width="2" stroke-linecap="round"/>
<line x1="533.00" y1="345.7" x2="543.00" y2="335.2" stroke="#000" stroke-width="2" stroke-linecap="round"/>
</g>
<clipPath id="hc5"><rect x="565" y="335" width="63.5" height="13"/></clipPath>
<g clip-path="url(#hc5)">
<line x1="555.26" y1="345.7" x2="565.26" y2="335.2" stroke="#000" stroke-width="2" stroke-linecap="round"/>
<line x1="562.38" y1="345.7" x2="572.38" y2="335.2" stroke="#000" stroke-width="2" stroke-linecap="round"/>
<line x1="569.50" y1="345.7" x2="579.50" y2="335.2" stroke="#000" stroke-width="2" stroke-linecap="round"/>
<line x1="576.62" y1="345.7" x2="586.62" y2="335.2" stroke="#000" stroke-width="2" stroke-linecap="round"/>
<line x1="583.74" y1="345.7" x2="593.74" y2="335.2" stroke="#000" stroke-width="2" stroke-linecap="round"/>
<line x1="590.86" y1="345.7" x2="600.86" y2="335.2" stroke="#000" stroke-width="2" stroke-linecap="round"/>
<line x1="597.98" y1="345.7" x2="607.98" y2="335.2" stroke="#000" stroke-width="2" stroke-linecap="round"/>
<line x1="605.10" y1="345.7" x2="615.10" y2="335.2" stroke="#000" stroke-width="2" stroke-linecap="round"/>
<line x1="612.22" y1="345.7" x2="622.22" y2="335.2" stroke="#000" stroke-width="2" stroke-linecap="round"/>
<line x1="619.34" y1="345.7" x2="629.34" y2="335.2" stroke="#000" stroke-width="2" stroke-linecap="round"/>
<line x1="626.46" y1="345.7" x2="636.46" y2="335.2" stroke="#000" stroke-width="2" stroke-linecap="round"/>
</g>
<line x1="142.5" y1="340" x2="142.5" y2="532.5" stroke="#000" stroke-width="2"/>
<line x1="245" y1="339.5" x2="245" y2="532.5" stroke="#000" stroke-width="2"/>
<line x1="346.5" y1="385.5" x2="346.5" y2="532.5" stroke="#000" stroke-width="2"/>
<line x1="448.5" y1="340" x2="448.5" y2="532.5" stroke="#000" stroke-width="2"/>
<line x1="550" y1="340.5" x2="550" y2="532.5" stroke="#000" stroke-width="2"/>
<path d="M448.5,489 Q448.5,496 452.5,502 L490,561" fill="none" stroke="#000" stroke-width="2"/>
<path d="M495.5,569.5 Q503,581.5 515,581.5 L530,581.5 Q550,581.5 550,560 L550,545" fill="none" stroke="#000" stroke-width="2"/>
<line x1="142.5" y1="529.5" x2="550" y2="529.5" stroke="#000" stroke-width="2"/>
<polygon points="142.50,528.60 142.50,530.40 155.00,532.90 155.00,526.10" fill="#000"/>
<polygon points="245.00,528.60 245.00,530.40 257.50,532.90 257.50,526.10" fill="#000"/>
<polygon points="346.50,528.60 346.50,530.40 359.00,532.90 359.00,526.10" fill="#000"/>
<polygon points="448.50,528.60 448.50,530.40 461.00,532.90 461.00,526.10" fill="#000"/>
<polygon points="245.00,528.60 245.00,530.40 232.50,532.90 232.50,526.10" fill="#000"/>
<polygon points="346.50,528.60 346.50,530.40 334.00,532.90 334.00,526.10" fill="#000"/>
<polygon points="448.50,528.60 448.50,530.40 436.00,532.90 436.00,526.10" fill="#000"/>
<polygon points="550.00,528.60 550.00,530.40 537.50,532.90 537.50,526.10" fill="#000"/>
<line x1="131" y1="589" x2="131" y2="639.5" stroke="#000" stroke-width="2"/>
<line x1="154.5" y1="589" x2="154.5" y2="639.5" stroke="#000" stroke-width="2"/>
<line x1="49.5" y1="636" x2="186" y2="636" stroke="#000" stroke-width="2"/>
<polygon points="131.00,635.10 131.00,636.90 118.50,639.40 118.50,632.60" fill="#000"/>
<polygon points="154.50,635.10 154.50,636.90 167.00,639.40 167.00,632.60" fill="#000"/>
<line x1="334.5" y1="589" x2="334.5" y2="639.5" stroke="#000" stroke-width="2"/>
<line x1="358.5" y1="589" x2="358.5" y2="639.5" stroke="#000" stroke-width="2"/>
<line x1="253" y1="636" x2="390" y2="636" stroke="#000" stroke-width="2"/>
<polygon points="334.50,635.10 334.50,636.90 322.00,639.40 322.00,632.60" fill="#000"/>
<polygon points="358.50,635.10 358.50,636.90 371.00,639.40 371.00,632.60" fill="#000"/>
<line x1="443" y1="594.5" x2="443" y2="639.5" stroke="#000" stroke-width="2"/>
<line x1="465.5" y1="594.5" x2="465.5" y2="639.5" stroke="#000" stroke-width="2"/>
<line x1="412" y1="636" x2="548.5" y2="636" stroke="#000" stroke-width="2"/>
<polygon points="443.00,635.10 443.00,636.90 430.50,639.40 430.50,632.60" fill="#000"/>
<polygon points="465.50,635.10 465.50,636.90 478.00,639.40 478.00,632.60" fill="#000"/>
<path d="M190.5,446 L206,446 L206,442.8 L213,448 L206,453.2 L206,450 L190.5,450 Z" fill="none" stroke="#999" stroke-width="1"/>
<path d="M300.5,446 L285,446 L285,442.8 L278,448 L285,453.2 L285,450 L300.5,450 Z" fill="none" stroke="#999" stroke-width="1"/>
</g>
<text transform="translate(142.5,248) scale(0.99,1.05)" font-size="21" text-anchor="middle" >Ø57</text>
<text transform="translate(346.2,248.5) scale(0.99,1.05)" font-size="21" text-anchor="middle" >Ø57</text>
<text transform="translate(448,253.8) scale(0.99,1.05)" font-size="21" text-anchor="middle" >Ø57</text>
<text transform="translate(295,221.7) scale(0.99,1.05)" font-size="21" text-anchor="middle" >Ø22</text>
<text transform="translate(287.5,308.3) scale(0.99,1.05)" font-size="21" text-anchor="middle" >Ø48</text>
<text transform="translate(499,107) scale(0.99,1.05)" font-size="21" text-anchor="middle" >Ø23</text>
<text transform="translate(338,153.6) scale(1,1.05)" font-size="21" text-anchor="middle" >182</text>
<text transform="translate(337.2,182.8) scale(1,1.05)" font-size="21" text-anchor="middle" >204</text>
<text transform="translate(194.5,520.3) scale(1,1.05)" font-size="21" text-anchor="middle" >100</text>
<text transform="translate(296.3,520.3) scale(1,1.05)" font-size="21" text-anchor="middle" >100</text>
<text transform="translate(398.3,520.3) scale(1,1.05)" font-size="21" text-anchor="middle" >100</text>
<text transform="translate(499.8,520.3) scale(1,1.05)" font-size="21" text-anchor="middle" >100</text>
<text transform="translate(82,627.7) scale(1,1.05)" font-size="21" text-anchor="middle" >G 1/2&quot;</text>
<text transform="translate(285.3,627.8) scale(1,1.05)" font-size="21" text-anchor="middle" >G 1/2&quot;</text>
<text transform="translate(516.6,627.5) scale(1,1.05)" font-size="21" text-anchor="middle" >G 3/8&quot;</text>
<text x="244.1" y="454.7" font-size="17.8" text-anchor="middle" textLength="39" lengthAdjust="spacingAndGlyphs">G 1/2&quot;</text>
<text transform="translate(176.1,209.5) rotate(-90) scale(1,1.05)" x="0" y="7.52" font-size="21" text-anchor="middle">251</text>
<text transform="translate(65.4,305) rotate(-90) scale(1,1.05)" x="0" y="7.52" font-size="21" text-anchor="middle">60</text>
<text transform="translate(377.8,305.5) rotate(-90) scale(1,1.05)" x="0" y="7.52" font-size="21" text-anchor="middle">60</text>
<text transform="translate(478,307) rotate(-90) scale(1,1.05)" x="0" y="7.52" font-size="21" text-anchor="middle">56</text>
<text transform="translate(500.3,242.2) rotate(-90) scale(1,1.05)" x="0" y="7.52" font-size="21" text-anchor="middle">184</text>
<text transform="translate(606.6,240.6) rotate(-90) scale(1,1.05)" x="0" y="7.52" font-size="21" text-anchor="middle">186</text>
<text transform="translate(606.7,433.9) rotate(-90) scale(1,1.05)" x="0" y="7.52" font-size="21" text-anchor="middle">40 Max</text>
</svg></body></html>
